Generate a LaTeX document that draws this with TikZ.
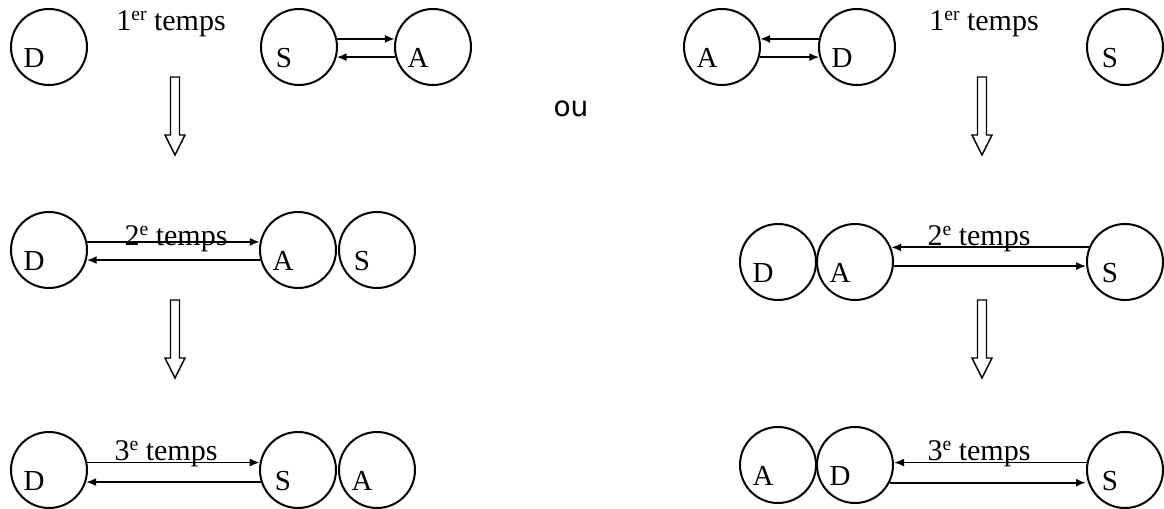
\documentclass[tikz,border=0pt]{standalone}
\usepackage{fontspec}
\setmainfont{Liberation Serif}
\newfontfamily\oufont{DejaVu Sans}
\usetikzlibrary{arrows.meta}
\newcommand{\expo}[1]{\raisebox{4.6pt}{\fontsize{9.8}{11}\selectfont #1}}

\tikzset{
  ring/.style={circle, draw, line width=1pt, minimum size=38pt, inner sep=0pt},
  tag/.style={label={[font=\fontsize{14.5}{17}\selectfont, inner sep=0pt, xshift=-7.5pt, yshift=-5.5pt]center:#1}},
  temps/.style={anchor=base, inner sep=0pt, font=\fontsize{15}{18}\selectfont},
  link/.style={-{Latex[length=5pt,width=4pt]}, line width=0.9pt},
  hollow/.style={draw, line width=0.7pt, fill=white}
}

\begin{document}
\begin{tikzpicture}[x=0.5pt, y=-0.5pt]
\useasboundingbox (0,0) rectangle (1164,509);

% left column
\node[ring, tag=D] (d1) at (49,47) {};
\node[ring, tag=S] (s1) at (299,47) {};
\node[ring, tag=A] (a1) at (433,47) {};
\node[temps] (t1) at (171,30) {1\expo{er} temps};
\draw[link] (s1.12) -- (a1.168);
\draw[link] (a1.195) -- (s1.-15);

\node[ring, tag=D] (d2) at (49,250) {};
\node[ring, tag=A] (a2) at (298,250) {};
\node[ring, tag=S] (s2) at (377,250) {};
\draw[link] (d2.12) -- (a2.168);
\draw[link] (a2.195) -- (d2.-15);
\node[temps] (t2) at (176,245) {2\expo{e} temps};

\node[ring, tag=D] (d3) at (49,470) {};
\node[ring, tag=S] (s3) at (298,470) {};
\node[ring, tag=A] (a3) at (377,470) {};
\draw[link] (d3.11) -- (s3.169);
\draw[link] (s3.198) -- (d3.-18);
\node[temps] (t3) at (166,460) {3\expo{e} temps};

\node[font=\oufont\fontsize{14}{16}\selectfont] (ou) at (571,109) {ou};

% right column
\node[ring, tag=A] (a4) at (722,47) {};
\node[ring, tag=D] (d4) at (857,47) {};
\node[ring, tag=S] (s4) at (1125,47) {};
\node[temps] (t4) at (984,30) {1\expo{er} temps};
\draw[link] (d4.168) -- (a4.12);
\draw[link] (a4.-15) -- (d4.195);

\node[ring, tag=D] (d5) at (778,262) {};
\node[ring, tag=A] (a5) at (855,262) {};
\node[ring, tag=S] (s5) at (1125,262) {};
\draw[link] (s5.158) -- (a5.22);
\draw[link] (a5.-6) -- (s5.186);
\node[temps] (t5) at (979,245) {2\expo{e} temps};

\node[ring, tag=A] (a6) at (778,465) {};
\node[ring, tag=D] (d6) at (855,465) {};
\node[ring, tag=S] (s6) at (1125,470) {};
\draw[link] (s6.169) -- (s6.169 -| d6.east);
\draw[link] (d6.-27) -- (d6.-27 -| s6.west);
\node[temps] (t6) at (979,460) {3\expo{e} temps};

% hollow arrows between the steps
\foreach \x/\y in {175/77, 175/300, 982/77, 982/300}
  \draw[hollow] (\x-4.5,\y) -- (\x+4.5,\y) -- (\x+4.5,\y+58) -- (\x+10,\y+58)
    -- (\x,\y+78) -- (\x-10,\y+58) -- (\x-4.5,\y+58) -- cycle;

\end{tikzpicture}
\end{document}
